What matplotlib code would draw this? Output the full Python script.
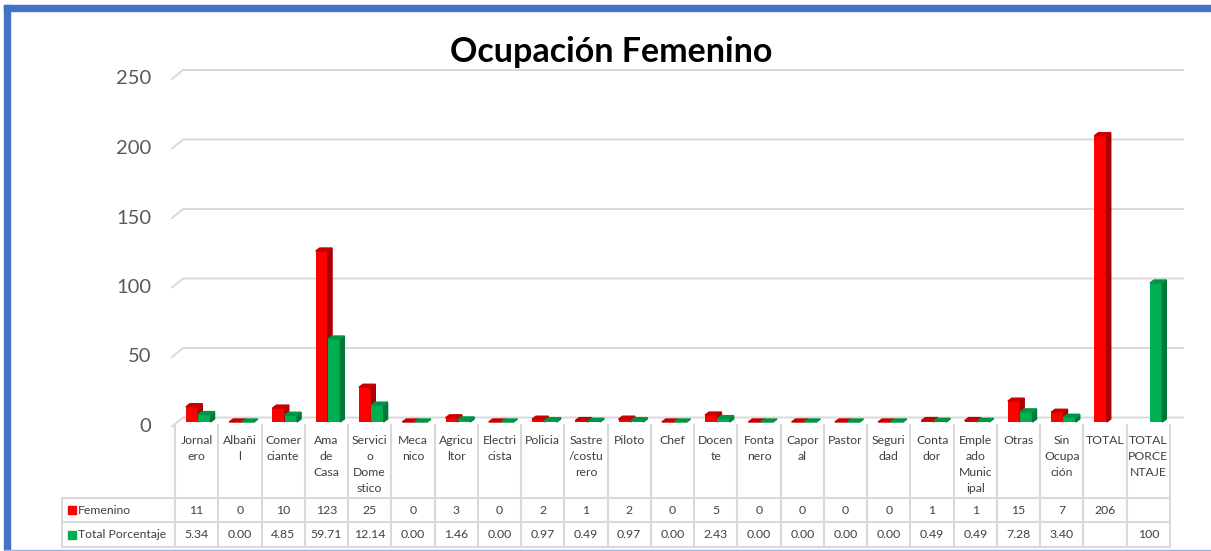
import numpy as np
import matplotlib.pyplot as plt
from matplotlib.patches import Polygon, Rectangle
from matplotlib.lines import Line2D
import matplotlib.transforms as mtransforms

plt.rcParams['font.family'] = ['Lato', 'DejaVu Sans']

categorias = ["Jornal\nero", "Albañi\nl", "Comer\nciante", "Ama\nde\nCasa",
              "Servici\no\nDome\nstico", "Meca\nnico", "Agricu\nltor", "Electri\ncista",
              "Policia", "Sastre\n/costu\nrero", "Piloto", "Chef", "Docen\nte",
              "Fonta\nnero", "Capor\nal", "Pastor", "Seguri\ndad", "Conta\ndor",
              "Emple\nado\nMunic\nipal", "Otras", "Sin\nOcupa\nción", "TOTAL",
              "TOTAL\nPORCE\nNTAJE"]
femenino = [11, 0, 10, 123, 25, 0, 3, 0, 2, 1, 2, 0, 5, 0, 0, 0, 0, 1, 1, 15, 7, 206, np.nan]
porcentaje = [5.34, 0.00, 4.85, 59.71, 12.14, 0.00, 1.46, 0.00, 0.97, 0.49, 0.97, 0.00,
              2.43, 0.00, 0.00, 0.00, 0.00, 0.49, 0.49, 7.28, 3.40, np.nan, 100]
series = ["Femenino", "Total Porcentaje"]
yticks = [0, 50, 100, 150, 200, 250]

W, H = 1211, 551
fig = plt.figure(figsize=(W / 100, H / 100), dpi=100)


def fx(px):
    return px / W


def fy(py):
    return 1 - py / H


ax = fig.add_axes([fx(175), fy(422), fx(1170) - fx(175), fy(74.5) - fy(422)])
ax.set_xlim(-0.5, len(categorias) - 0.5)
ax.set_ylim(0, 250)
ax.axis('off')

# 3d look: depth of the bars in data units
ppx = (1170 - 175) / len(categorias)
ppy = (422 - 74.5) / 250
ddx = 4 / ppx
ddy = 3 / ppy


def bar3d(x0, w, h, front, side, top, z):
    if np.isnan(h):
        return
    ax.bar(x0, h, w, align='edge', color=front, zorder=z, clip_on=False)
    ax.add_patch(Polygon([(x0 + w, 0), (x0 + w, h), (x0 + w + ddx, h + ddy), (x0 + w + ddx, ddy)],
                         closed=True, color=side, zorder=z, clip_on=False))
    ax.add_patch(Polygon([(x0, h), (x0 + w, h), (x0 + w + ddx, h + ddy), (x0 + ddx, h + ddy)],
                         closed=True, color=top, zorder=z, clip_on=False))


bw = 0.285
for i in range(len(categorias)):
    bar3d(i - 0.247, bw, femenino[i], '#FF0000', '#A80000', '#C80000', 3)
    bar3d(i + 0.037, bw, porcentaje[i], '#00B050', '#00783A', '#009444', 4)

# gridlines with back wall offset + y labels
grid_c = '#D9D9D9'
for v in yticks:
    yd = ax.transData.transform((0, v))[1]
    yb = H - yd - 4.5
    ax.plot([fx(172), fx(183), fx(1183)], [fy(yb + 9), fy(yb), fy(yb)],
            color=grid_c, lw=1.4, transform=fig.transFigure, clip_on=False, zorder=1)
    fig.text(fx(151), fy(yb + 9), str(v), ha='right', va='center', fontsize=14.5, color='#595959')

fig.text(fx(611), fy(52), "Ocupación Femenino", ha='center', va='center',
         fontsize=24.5, fontweight='bold', color='black')

# data table
bt = mtransforms.blended_transform_factory(ax.transData, fig.transFigure)
tc = '#404040'
fs = 8.8
n = len(categorias)
for k in range(n + 1):
    ax.add_line(Line2D([k - 0.5, k - 0.5], [fy(425), fy(547)], color=grid_c, lw=1.5,
                       transform=bt, clip_on=False))
for yy in [498, 522, 547]:
    fig.add_artist(Line2D([fx(62), fx(1170)], [fy(yy), fy(yy)], color=grid_c, lw=1.5,
                          transform=fig.transFigure))
fig.add_artist(Line2D([fx(62), fx(62)], [fy(498), fy(547)], color=grid_c, lw=1.5,
                      transform=fig.transFigure))

for i, lab in enumerate(categorias):
    for j, line in enumerate(lab.split("\n")):
        ax.text(i, fy(441 + 16 * j), line, ha='center', va='center', fontsize=fs,
                color=tc, transform=bt, clip_on=False)
    if not np.isnan(femenino[i]):
        ax.text(i, fy(510), f"{femenino[i]:g}", ha='center', va='center', fontsize=fs,
                color=tc, transform=bt, clip_on=False)
    if not np.isnan(porcentaje[i]):
        txt = "100" if porcentaje[i] == 100 else f"{porcentaje[i]:.2f}"
        ax.text(i, fy(535), txt, ha='center', va='center', fontsize=fs,
                color=tc, transform=bt, clip_on=False)

for name, col, yy in [(series[0], '#FF0000', 510), (series[1], '#00B050', 535)]:
    fig.add_artist(Rectangle((fx(67.5), fy(yy + 4)), fx(8), 8 / H, color=col,
                             transform=fig.transFigure))
    fig.text(fx(78), fy(yy), name, ha='left', va='center', fontsize=fs, color=tc)

# blue frame
fig.add_artist(Rectangle((fx(4), 0), fx(5.5), fy(5), color='#4472C4', transform=fig.transFigure))
fig.add_artist(Rectangle((fx(4), fy(10.5)), 1, 5.5 / H, color='#4472C4', transform=fig.transFigure))
fig.add_artist(Rectangle((fx(4), 0), 1, 1.5 / H, color='#9DB5E0', transform=fig.transFigure))

fig.savefig("out.png", dpi=100)
